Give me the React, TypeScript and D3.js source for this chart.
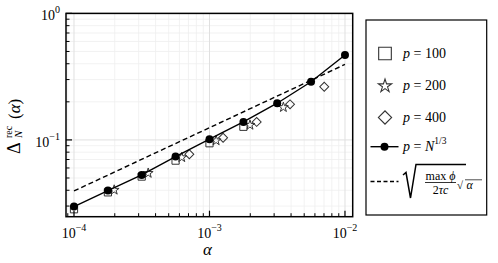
import React from "react";
import * as d3 from "d3";

// alpha values and reconstruction error
const alphaN = [1e-4, 1.78e-4, 3.16e-4, 5.62e-4, 1e-3, 1.78e-3, 3.16e-3, 5.62e-3, 1e-2];
const deltaN = [0.0297, 0.0398, 0.0529, 0.0739, 0.1013, 0.1387, 0.195, 0.288, 0.469];

const alphaP100 = [1e-4, 1.78e-4, 3.16e-4, 5.62e-4, 1e-3, 1.78e-3];
const deltaP100 = [0.0283, 0.0385, 0.0513, 0.0686, 0.0941, 0.127];

const alphaP200 = [1.98e-4, 3.53e-4, 6.24e-4, 1.12e-3, 1.99e-3, 3.51e-3];
const deltaP200 = [0.0402, 0.0546, 0.0727, 0.0988, 0.131, 0.181];

const alphaP400 = [7.1e-4, 1.26e-3, 2.23e-3, 3.93e-3, 7.03e-3];
const deltaP400 = [0.0771, 0.104, 0.1387, 0.191, 0.263];

const alphaBound = [1e-4, 1e-2];
const deltaBound = [0.0395, 0.395];

const xMajor = [1e-4, 1e-3, 1e-2];
const xMajorExp = ["\u22124", "\u22123", "\u22122"];
const yMajor = [1e-1, 1];
const yMajorExp = ["\u22121", "0"];

const W = 498;
const H = 263;
const FONT = "Liberation Serif, DejaVu Serif, serif";

export default function App() {
  const left = 66, right = 352.7, top = 13.4, bottom = 216.7;
  const x = d3.scaleLog().domain([Math.pow(10, -4.059), Math.pow(10, -1.943)]).range([left, right]);
  const y = d3.scaleLog().domain([Math.pow(10, -1.607), 1]).range([bottom, top]);

  const minor = (dom: number[]) => {
    const out: number[] = [];
    for (let e = -6; e <= 1; e++) {
      for (let k = 2; k <= 9; k++) {
        const v = k * Math.pow(10, e);
        if (v > dom[0] && v < dom[1]) out.push(v);
      }
    }
    return out;
  };
  const xMinor = minor(x.domain());
  const yMinor = minor(y.domain());

  const line = d3.line<[number, number]>().x((d) => x(d[0])).y((d) => y(d[1]));
  const nPts = alphaN.map((a, i) => [a, deltaN[i]] as [number, number]);
  const boundPts = alphaBound.map((a, i) => [a, deltaBound[i]] as [number, number]);

  const sq = d3.symbol().type(d3.symbolSquare);
  const star = d3.symbol().type(d3.symbolStar);
  const markStroke = "#333";

  return (
    <svg width={W} height={H} style={{ display: "block", position: "absolute", left: 0, top: 0 }} fontFamily={FONT}>
      <rect width={W} height={H} fill="#fff" />
      {/* grid */}
      <g>
        {xMinor.map((v, i) => (
          <line key={"xm" + i} x1={x(v)} x2={x(v)} y1={top} y2={bottom} stroke="#efefef" strokeWidth={0.8} />
        ))}
        {yMinor.map((v, i) => (
          <line key={"ym" + i} x1={left} x2={right} y1={y(v)} y2={y(v)} stroke="#efefef" strokeWidth={0.8} />
        ))}
        {xMajor.map((v, i) => (
          <line key={"xM" + i} x1={x(v)} x2={x(v)} y1={top} y2={bottom} stroke="#e0e0e0" strokeWidth={1} />
        ))}
        {yMajor.map((v, i) => (
          <line key={"yM" + i} x1={left} x2={right} y1={y(v)} y2={y(v)} stroke="#e0e0e0" strokeWidth={1} />
        ))}
      </g>

      {/* bound */}
      <path d={line(boundPts) || ""} fill="none" stroke="#000" strokeWidth={1.4} strokeDasharray="5,3" />

      {/* p = 100 */}
      {alphaP100.map((a, i) => (
        <path key={"s" + i} d={sq.size(52)() || ""} transform={`translate(${x(a)},${y(deltaP100[i])})`} fill="none" stroke={markStroke} strokeWidth={1} />
      ))}
      {/* p = 200 */}
      {alphaP200.map((a, i) => (
        <path key={"t" + i} d={star.size(30)() || ""} transform={`translate(${x(a)},${y(deltaP200[i])})`} fill="none" stroke={markStroke} strokeWidth={1} />
      ))}
      {/* p = 400 */}
      {alphaP400.map((a, i) => (
        <path key={"d" + i} d={sq.size(40)() || ""} transform={`translate(${x(a)},${y(deltaP400[i])}) rotate(45)`} fill="none" stroke={markStroke} strokeWidth={1} />
      ))}
      {/* p = N^(1/3) */}
      <path d={line(nPts) || ""} fill="none" stroke="#000" strokeWidth={1.4} />
      {nPts.map((d, i) => (
        <circle key={"c" + i} cx={x(d[0])} cy={y(d[1])} r={4} fill="#000" />
      ))}

      {/* ticks */}
      {xMinor.map((v, i) => (
        <line key={"xt" + i} x1={x(v)} x2={x(v)} y1={bottom} y2={bottom - 3.5} stroke="#000" strokeWidth={1} />
      ))}
      {xMajor.map((v, i) => (
        <line key={"xT" + i} x1={x(v)} x2={x(v)} y1={bottom} y2={bottom - 6} stroke="#000" strokeWidth={1.2} />
      ))}
      {yMinor.map((v, i) => (
        <line key={"yt" + i} x1={left} x2={left + 3.5} y1={y(v)} y2={y(v)} stroke="#000" strokeWidth={1} />
      ))}
      {yMajor.map((v, i) => (
        <line key={"yT" + i} x1={left} x2={left + 6} y1={y(v)} y2={y(v)} stroke="#000" strokeWidth={1.2} />
      ))}
      <rect x={left} y={top} width={right - left} height={bottom - top} fill="none" stroke="#000" strokeWidth={1.5} />

      {/* tick labels */}
      {xMajor.map((v, i) => (
        <text key={"xl" + i} x={x(v)} y={238} textAnchor="middle" fontSize={14}>
          10<tspan fontSize={10} dy={-7}>{xMajorExp[i]}</tspan>
        </text>
      ))}
      {yMajor.map((v, i) => (
        <text key={"yl" + i} x={60} y={y(v) + 7} textAnchor="end" fontSize={14}>
          10<tspan fontSize={10} dy={-7}>{yMajorExp[i]}</tspan>
        </text>
      ))}

      {/* axis labels */}
      <text x={(left + right) / 2 - 2} y={255} textAnchor="middle" fontSize={17} fontStyle="italic">α</text>
      <g transform="translate(20,0) rotate(-90)">
        <text x={-154} y={0} fontSize={18}>Δ</text>
        <text x={-138} y={-8} fontSize={10}>rec</text>
        <text x={-138} y={2} fontSize={11} fontStyle="italic">N</text>
        <text x={-119} y={0} fontSize={17}>
          (<tspan fontStyle="italic">α</tspan>)
        </text>
      </g>

      {/* legend */}
      <g>
        <rect x={366} y={20} width={120.7} height={195} fill="#fff" stroke="#000" strokeWidth={1.2} />
        <path d={sq.size(160)() || ""} transform="translate(385,53.5)" fill="none" stroke={markStroke} strokeWidth={1.1} />
        <text x={403} y={58} fontSize={14}><tspan fontStyle="italic">p</tspan> = 100</text>

        <path d={star.size(55)() || ""} transform="translate(385,86)" fill="none" stroke={markStroke} strokeWidth={1.1} />
        <text x={403} y={90} fontSize={14}><tspan fontStyle="italic">p</tspan> = 200</text>

        <path d={sq.size(88)() || ""} transform="translate(385,117.5) rotate(45)" fill="none" stroke={markStroke} strokeWidth={1.1} />
        <text x={403} y={122} fontSize={14}><tspan fontStyle="italic">p</tspan> = 400</text>

        <line x1={370.5} x2={398.5} y1={146.7} y2={146.7} stroke="#000" strokeWidth={1.4} />
        <circle cx={384.5} cy={146.7} r={4} fill="#000" />
        <text x={403} y={151} fontSize={14}>
          <tspan fontStyle="italic">p</tspan> = <tspan fontStyle="italic">N</tspan>
          <tspan fontSize={9.5} dy={-7}>1/3</tspan>
        </text>

        <line x1={370.5} x2={398.5} y1={181.5} y2={181.5} stroke="#000" strokeWidth={1.4} strokeDasharray="4,2.5" />
        <path d="M403,175 L406,172.5 L410.5,198 L416,164.5 L466,164.5" fill="none" stroke="#000" strokeWidth={1.5} />
        <text x={440.5} y={179.5} textAnchor="middle" fontSize={12}>max <tspan fontStyle="italic">ϕ</tspan></text>
        <line x1={425} x2={456} y1={182.5} y2={182.5} stroke="#000" strokeWidth={0.8} />
        <text x={440.5} y={193.5} textAnchor="middle" fontSize={12}>2<tspan fontStyle="italic">τc</tspan></text>
        <text x={457} y={189} fontSize={11}>√</text>
        <line x1={465} x2={482} y1={179.8} y2={179.8} stroke="#000" strokeWidth={0.7} />
        <text x={466.5} y={189} fontSize={12} fontStyle="italic">α</text>
      </g>
    </svg>
  );
}
